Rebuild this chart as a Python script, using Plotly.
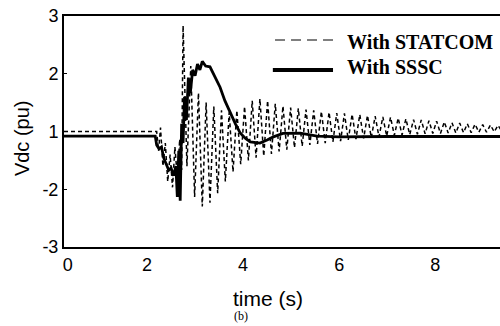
import plotly.graph_objects as go

# ---------------- data ----------------
sssc_t = [0.27, 2.17, 2.20, 2.25, 2.30, 2.35, 2.40, 2.45, 2.50, 2.55, 2.60, 2.63, 2.66, 2.69,
          2.72, 2.75, 2.78, 2.82, 2.86, 2.90, 2.95, 3.00, 3.05, 3.10, 3.15, 3.22, 3.31, 3.40,
          3.52, 3.62, 3.73, 3.84, 3.94, 4.05, 4.15, 4.35, 4.50, 4.63, 4.83, 5.19, 5.54, 6.00,
          7.00, 8.00, 9.40]
sssc_v = [-0.12, -0.12, -0.35, -0.45, -0.40, -0.70, -0.85, -1.00, -0.95, -1.15, -0.90, -1.70,
          -0.50, -1.80, 0.20, -0.30, 0.90, 0.30, 1.40, 1.00, 1.60, 1.45, 1.75, 1.60, 1.82, 1.70,
          1.68, 1.45, 1.15, 0.80, 0.48, 0.20, -0.04, -0.18, -0.27, -0.30, -0.22, -0.14, -0.05,
          -0.04, -0.12, -0.14, -0.13, -0.13, -0.13]

statcom_t = [0.27, 2.20, 2.24, 2.28, 2.33, 2.38, 2.43, 2.48, 2.53, 2.58, 2.63, 2.68, 2.72,
             2.75, 2.83, 2.91, 2.99, 3.07, 3.15, 3.23, 3.31, 3.39, 3.47, 3.55, 3.63, 3.71,
             3.79, 3.87, 3.95, 4.03, 4.11, 4.19, 4.27, 4.35, 4.43, 4.51, 4.59, 4.67, 4.75,
             4.83, 4.91, 4.99, 5.07, 5.15, 5.23, 5.31, 5.39, 5.47, 5.55, 5.63, 5.71, 5.79,
             5.87, 5.95, 6.03, 6.11, 6.19, 6.27, 6.35, 6.43, 6.51, 6.59, 6.67, 6.75, 6.83,
             6.91, 6.99, 7.07, 7.15, 7.23, 7.31, 7.39, 7.47, 7.55, 7.63, 7.71, 7.79, 7.87,
             7.95, 8.03, 8.11, 8.19, 8.27, 8.35, 8.43, 8.51, 8.59, 8.67, 8.75, 8.83, 8.91,
             8.99, 9.07, 9.15, 9.23, 9.31, 9.39]
statcom_v = [0.0, 0.0, -0.5, 0.1, -0.9, -0.3, -1.3, -0.6, -1.45, -0.4, -1.2, -0.2, -1.0,
             2.75, -0.9, 1.7, -1.7, 1.0, -1.95, 0.75, -1.85, 0.65, -1.6, 0.55, -1.3, 0.5,
             -1.05, 0.55, -0.85, 0.65, -0.75, 0.8, -0.68, 0.85, -0.64, 0.8, -0.58, 0.72, -0.52,
             0.66, -0.47, 0.62, -0.42, 0.6, -0.38, 0.57, -0.35, 0.55, -0.32, 0.52, -0.3, 0.5,
             -0.27, 0.48, -0.25, 0.47, -0.22, 0.45, -0.2, 0.44, -0.18, 0.42, -0.16, 0.4, -0.14,
             0.38, -0.12, 0.37, -0.1, 0.35, -0.09, 0.33, -0.08, 0.31, -0.07, 0.3, -0.06, 0.28,
             -0.05, 0.27, -0.05, 0.25, -0.04, 0.23, -0.04, 0.22, -0.03, 0.2, -0.03, 0.19, -0.02,
             0.18, -0.02, 0.17, -0.01, 0.16, 0.0]

x_tickvals = [0.35, 2, 4, 6, 8]
x_ticktext = ["0", "2", "4", "6", "8"]
y_tickvals = [3, 1.5, 0, -1.5, -3]
y_ticktext = ["3", "2", "1", "-2", "-3"]

# ---------------- figure ----------------
fig = go.Figure()
fig.add_trace(go.Scatter(x=statcom_t, y=statcom_v, mode="lines", name="With STATCOM",
                         line=dict(color="black", width=1.5, dash="4px,3px"), showlegend=False))
fig.add_trace(go.Scatter(x=sssc_t, y=sssc_v, mode="lines", name="With SSSC",
                         line=dict(color="black", width=2.8), showlegend=False))

tick_font = dict(family="Liberation Sans, Arial", size=18, color="black")
fig.update_layout(
    width=500, height=326,
    margin=dict(l=64, r=0, t=16, b=79),
    paper_bgcolor="white", plot_bgcolor="white",
    xaxis=dict(range=[0.27, 9.35], tickvals=x_tickvals, ticktext=x_ticktext,
               showline=True, linecolor="black", linewidth=2, mirror=True,
               showgrid=False, zeroline=False, ticks="", tickfont=tick_font),
    yaxis=dict(range=[-3, 3], tickvals=y_tickvals, ticktext=y_ticktext,
               showline=True, linecolor="black", linewidth=2, mirror=False,
               showgrid=False, zeroline=False, ticks="inside", ticklen=3,
               tickcolor="black", tickfont=tick_font),
)

# legend drawn manually
fig.add_shape(type="line", xref="paper", yref="paper", x0=0.484, x1=0.622, y0=0.896, y1=0.896,
              line=dict(color="black", width=1.2, dash="10px,6px"))
fig.add_shape(type="line", xref="paper", yref="paper", x0=0.479, x1=0.617, y0=0.766, y1=0.766,
              line=dict(color="black", width=4))
serif = dict(family="Liberation Serif, Times New Roman", size=20, color="black")
fig.add_annotation(xref="paper", yref="paper", x=0.645, y=0.887, text="<b>With STATCOM</b>",
                   showarrow=False, xanchor="left", yanchor="middle", font=serif)
fig.add_annotation(xref="paper", yref="paper", x=0.645, y=0.779, text="<b>With SSSC</b>",
                   showarrow=False, xanchor="left", yanchor="middle", font=serif)

# axis titles
fig.add_annotation(xref="paper", yref="paper", x=-0.096, y=0.472, text="Vdc (pu)",
                   textangle=-90, showarrow=False, xanchor="center", yanchor="middle",
                   font=dict(family="Liberation Sans, Arial", size=20, color="black"))
fig.add_annotation(xref="paper", yref="paper", x=0.468, y=-0.221, text="time (s)",
                   showarrow=False, xanchor="center", yanchor="middle",
                   font=dict(family="Liberation Sans, Arial", size=21, color="black"))
fig.add_annotation(xref="paper", yref="paper", x=0.406, y=-0.300, text="(b)",
                   showarrow=False, xanchor="center", yanchor="middle",
                   font=dict(family="Liberation Serif, Times New Roman", size=12, color="black"))

fig.write_html("out.html", config={"displayModeBar": False},
               post_script="document.body.style.margin='0px';document.body.style.overflow='hidden';")
